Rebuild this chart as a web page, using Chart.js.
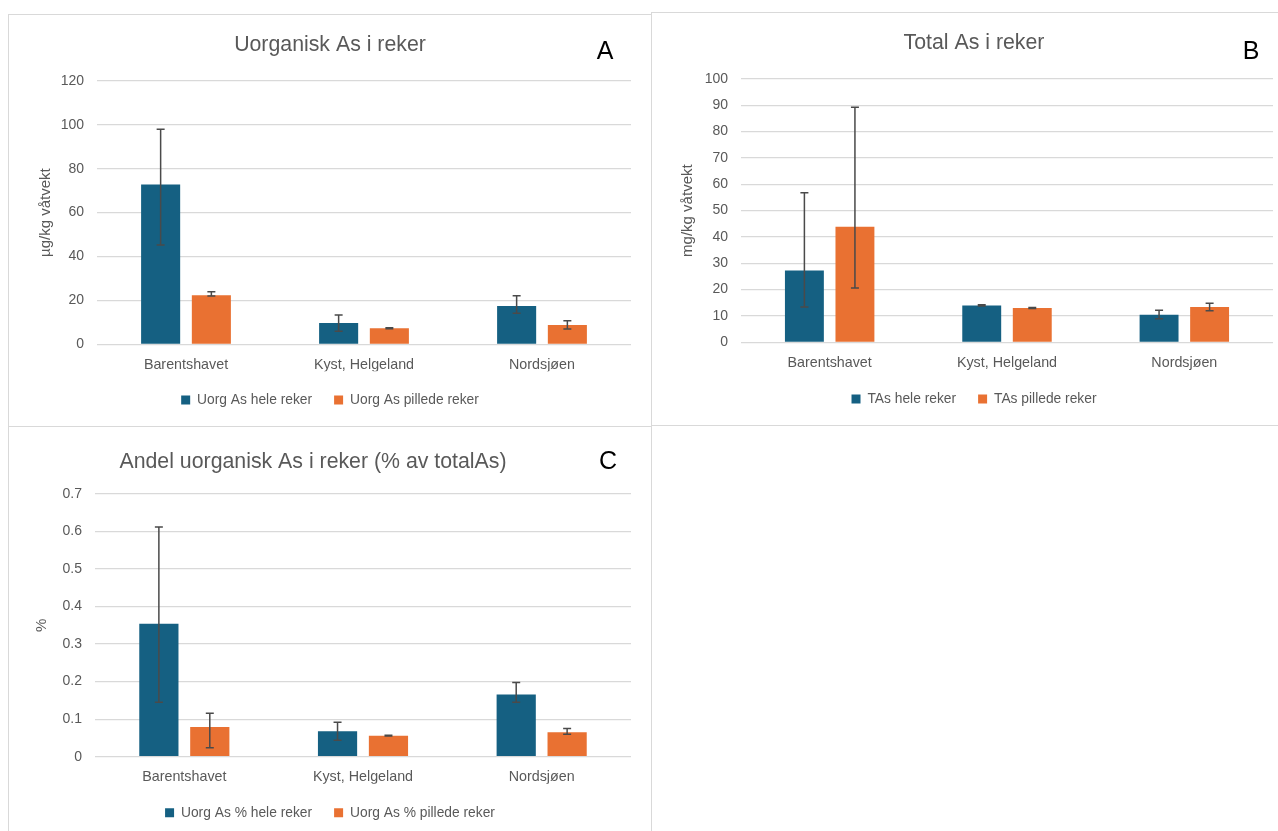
<!DOCTYPE html>
<html>
<head>
<meta charset="utf-8">
<script src="https://cdn.jsdelivr.net/npm/chart.js@4/dist/chart.umd.min.js"></script>
<style>
  html, body { margin: 0; padding: 0; background: #fff; overflow: hidden; }
  body { width: 1278px; height: 831px; position: relative; }
  .panel { position: absolute; border: 1.5px solid #d9d9d9; box-sizing: border-box; }
  .box { position: absolute; }
  .letter { position: absolute; font-family: "Liberation Sans", Arial, sans-serif; font-size: 25px; color: #000; transform: translate(-50%, -50%); }
</style>
</head>
<body>
<div class="panel" style="left:8px; top:14px; width:644px; height:413px;"></div>
<div class="panel" style="left:651px; top:12px; width:650px; height:414px;"></div>
<div class="panel" style="left:8px; top:426px; width:644px; height:420px;"></div>

<div class="box" style="left:10px; top:14px; width:640px; height:411px;"><canvas id="chartA"></canvas></div>
<div class="box" style="left:652px; top:12px; width:644px; height:413px;"><canvas id="chartB"></canvas></div>
<div class="box" style="left:10px; top:428px; width:640px; height:403px;"><canvas id="chartC"></canvas></div>

<div class="letter" style="left:605px; top:50px;">A</div>
<div class="letter" style="left:1251px; top:50px;">B</div>
<div class="letter" style="left:608px; top:460px;">C</div>

<script>
const categories = ['Barentshavet', 'Kyst, Helgeland', 'Nordsjøen'];

// A: uorganisk As, µg/kg
const uorgHele = [72.8, 9.7, 17.4];
const uorgHeleLow = [45.2, 6.0, 14.2];
const uorgHeleHigh = [98.0, 13.3, 22.1];
const uorgPillede = [22.4, 7.3, 8.8];
const uorgPilledeLow = [22.0, 7.1, 7.0];
const uorgPilledeHigh = [23.9, 7.5, 10.7];

// B: total As, mg/kg
const taHele = [27.3, 14.0, 10.5];
const taHeleLow = [13.4, 13.8, 8.9];
const taHeleHigh = [56.8, 14.3, 12.2];
const taPillede = [43.9, 13.0, 13.4];
const taPilledeLow = [20.6, 12.8, 12.0];
const taPilledeHigh = [89.3, 13.2, 14.8];

// C: andel uorganisk As, %
const pctHele = [0.354, 0.068, 0.166];
const pctHeleLow = [0.145, 0.044, 0.145];
const pctHeleHigh = [0.612, 0.092, 0.198];
const pctPillede = [0.079, 0.056, 0.065];
const pctPilledeLow = [0.024, 0.055, 0.060];
const pctPilledeHigh = [0.116, 0.057, 0.075];

const BLUE = '#156082';
const ORANGE = '#E97132';
const GREY = '#595959';
const FONT = '"Liberation Sans", Arial, sans-serif';

const errorBars = {
    id: 'errorBars',
    afterDatasetsDraw(chart) {
        const ctx = chart.ctx;
        const y = chart.scales.y;
        ctx.save();
        ctx.strokeStyle = '#4a4a4a';
        ctx.lineWidth = 1.5;
        chart.data.datasets.forEach((ds, i) => {
            chart.getDatasetMeta(i).data.forEach((bar, j) => {
                const top = y.getPixelForValue(ds.errHigh[j]);
                const bot = y.getPixelForValue(ds.errLow[j]);
                ctx.beginPath();
                ctx.moveTo(bar.x, top);
                ctx.lineTo(bar.x, bot);
                ctx.moveTo(bar.x - 4, top);
                ctx.lineTo(bar.x + 4, top);
                ctx.moveTo(bar.x - 4, bot);
                ctx.lineTo(bar.x + 4, bot);
                ctx.stroke();
            });
        });
        ctx.restore();
    }
};

// nudge the title sideways (panel C title is not centred in the original)
const titleShift = {
    id: 'titleShift',
    afterLayout(chart, args, opts) {
        if (opts.dx && chart.titleBlock) {
            chart.titleBlock.left += opts.dx;
            chart.titleBlock.right += opts.dx;
        }
    }
};

function makeChart(id, o) {
    return new Chart(document.getElementById(id), {
        type: 'bar',
        data: {
            labels: categories,
            datasets: [{
                label: o.labels[0],
                data: o.series[0],
                errLow: o.low[0],
                errHigh: o.high[0],
                backgroundColor: BLUE
            }, {
                label: o.labels[1],
                data: o.series[1],
                errLow: o.low[1],
                errHigh: o.high[1],
                backgroundColor: ORANGE
            }]
        },
        options: {
            responsive: true,
            maintainAspectRatio: false,
            animation: false,
            categoryPercentage: 0.57,
            barPercentage: 0.77,
            layout: { padding: { left: o.pad, right: o.pad, top: 0, bottom: o.padB } },
            plugins: {
                title: {
                    display: true,
                    text: o.title,
                    color: GREY,
                    font: { family: FONT, size: 21.3, weight: 'normal' },
                    padding: { top: o.titleTop, bottom: o.titleBottom }
                },
                titleShift: { dx: o.titleDx || 0 },
                legend: {
                    position: 'bottom',
                    labels: {
                        boxWidth: 9,
                        boxHeight: 9,
                        padding: 22,
                        color: GREY,
                        font: { family: FONT, size: 13.8 }
                    }
                },
                tooltip: { enabled: false }
            },
            scales: {
                x: {
                    grid: { display: false, drawTicks: false },
                    border: { display: false },
                    ticks: { color: GREY, padding: 12, font: { family: FONT, size: 14.3 } },
                    afterFit: s => { s.height = o.xHeight; }
                },
                y: {
                    min: 0,
                    max: o.max,
                    ticks: { stepSize: o.step, color: GREY, padding: 13, font: { family: FONT, size: 14 } },
                    grid: { color: '#d9d9d9', lineWidth: 1.2, drawTicks: false },
                    border: { display: false },
                    title: {
                        display: true,
                        text: o.yTitle,
                        color: GREY,
                        font: { family: FONT, size: 15 },
                        padding: { top: o.yTitlePad, bottom: 0 }
                    },
                    afterFit: s => { s.width = o.yWidth; }
                }
            }
        },
        plugins: [errorBars, titleShift]
    });
}

makeChart('chartA', {
    title: 'Uorganisk As i reker',
    labels: ['Uorg As hele reker', 'Uorg As pillede reker'],
    series: [uorgHele, uorgPillede],
    low: [uorgHeleLow, uorgPilledeLow],
    high: [uorgHeleHigh, uorgPilledeHigh],
    max: 120, step: 20,
    yTitle: 'µg/kg våtvekt',
    pad: 19, yWidth: 68, yTitlePad: 7.6,
    titleTop: 18.2, titleBottom: 23.2, xHeight: 26.9, padB: 8
});

makeChart('chartB', {
    title: 'Total As i reker',
    labels: ['TAs hele reker', 'TAs pillede reker'],
    series: [taHele, taPillede],
    low: [taHeleLow, taPilledeLow],
    high: [taHeleHigh, taPilledeHigh],
    max: 100, step: 10,
    yTitle: 'mg/kg våtvekt',
    pad: 23, yWidth: 66, yTitlePad: 4,
    titleTop: 18.2, titleBottom: 23.2, xHeight: 27.8, padB: 9.1
});

makeChart('chartC', {
    title: 'Andel uorganisk As i reker (% av totalAs)',
    labels: ['Uorg As % hele reker', 'Uorg As % pillede reker'],
    series: [pctHele, pctPillede],
    low: [pctHeleLow, pctPilledeLow],
    high: [pctHeleHigh, pctPilledeHigh],
    max: 0.7, step: 0.1,
    yTitle: '%',
    pad: 19, yWidth: 66, yTitlePad: 3.5,
    titleTop: 21.2, titleBottom: 19.2, xHeight: 27.1, padB: 1.4,
    titleDx: -17
});
</script>
</body>
</html>
